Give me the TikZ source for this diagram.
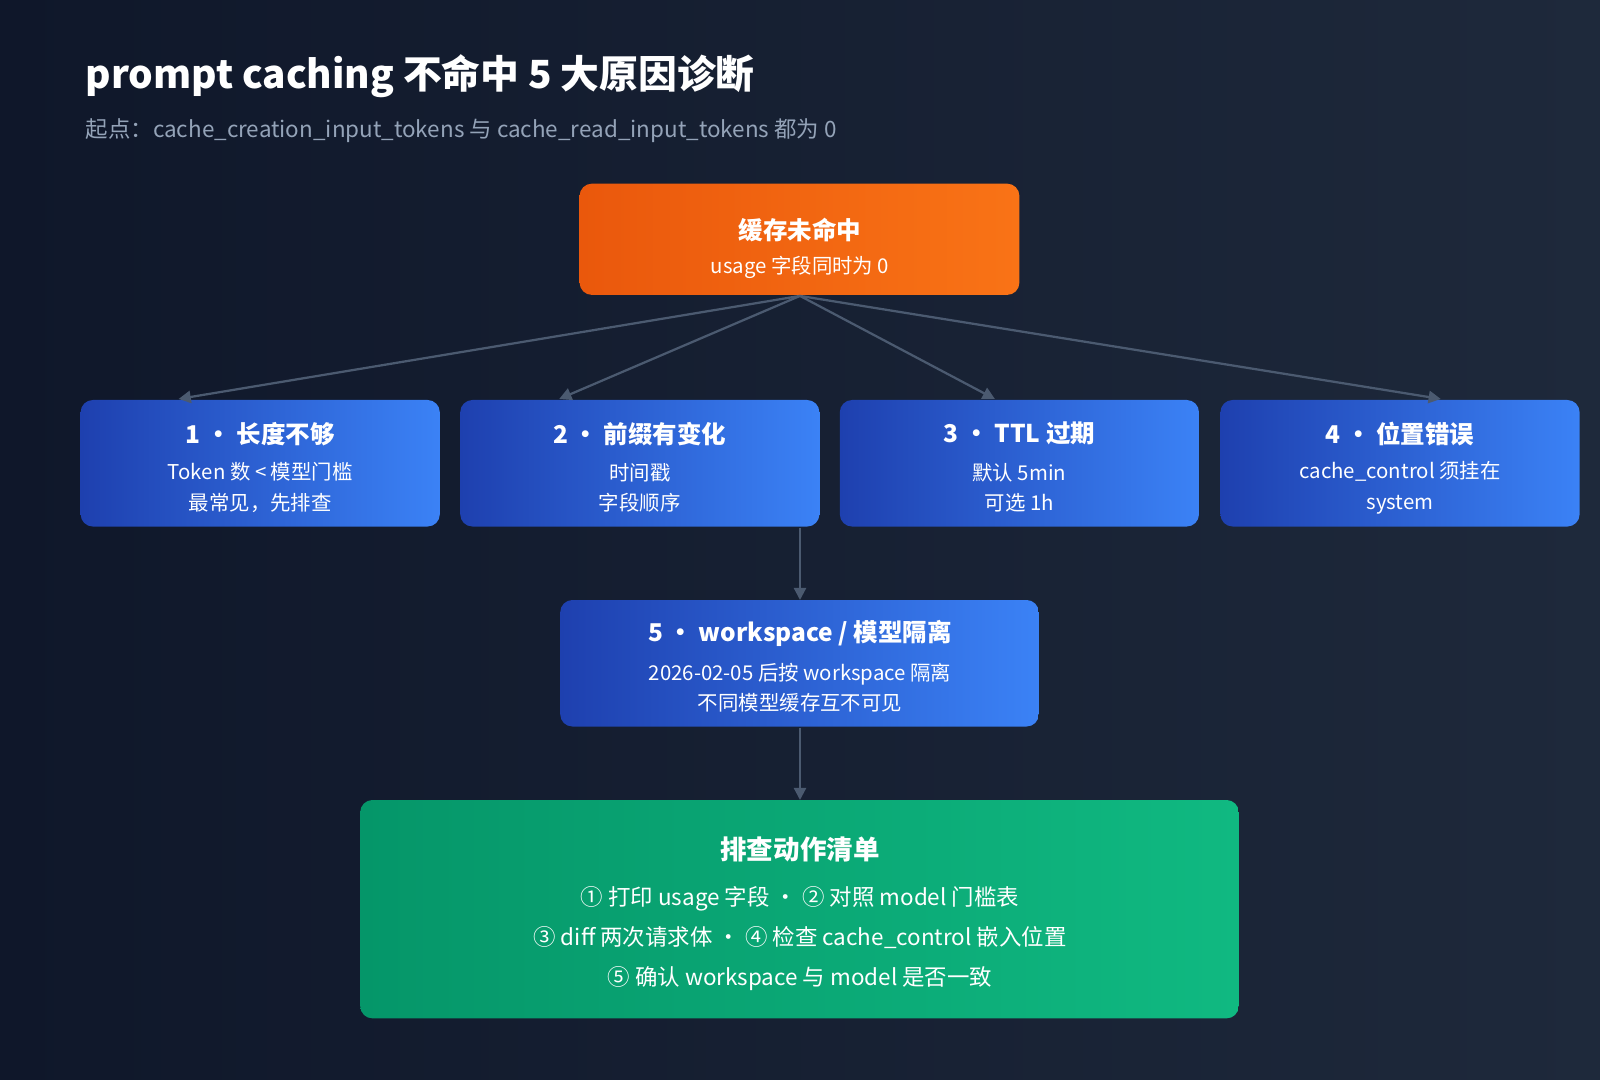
\documentclass[tikz,border=0pt]{standalone}
\usepackage{fontspec}
\setmainfont{Noto Sans CJK SC}
\usetikzlibrary{arrows.meta}
\definecolor{bgA}{HTML}{0F172A}\definecolor{bgB}{HTML}{1E293B}
\definecolor{orA}{HTML}{EA580C}\definecolor{orB}{HTML}{F97316}
\definecolor{blA}{HTML}{1E40AF}\definecolor{blB}{HTML}{3B82F6}
\definecolor{grA}{HTML}{059669}\definecolor{grB}{HTML}{10B981}
\definecolor{ln}{HTML}{4B5A70}\definecolor{sub}{HTML}{94A3B8}
\begin{document}
\begin{tikzpicture}[x=0.5pt,y=-0.5pt,
 box/.style={rounded corners=6pt,draw=none},
 blue/.style={box,left color=blA,right color=blB},
 ttl/.style={text=white,font=\bfseries\fontsize{12}{14}\selectfont},
 txt/.style={text=white,font=\fontsize{10}{15}\selectfont,align=center},
 arr/.style={draw=ln,line width=1.1pt,-{Triangle[length=6pt,width=6pt]}}]
\shade[left color=bgA,right color=bgB] (0,0) rectangle (1568,1058);
\useasboundingbox (0,0) rectangle (1568,1058);
\node[anchor=west,text=white,font=\bfseries\fontsize{19}{22}\selectfont] (title) at (77,75) {prompt caching 不命中 5 大原因诊断};
\node[anchor=west,text=sub,font=\fontsize{11}{13}\selectfont] (subt) at (77,128) {起点：cache\_creation\_input\_tokens 与 cache\_read\_input\_tokens 都为 0};
% top
\shade[box,left color=orA,right color=orB] (568,180) rectangle (999,289);
\node[ttl] (t0) at (784,225) {缓存未命中};
\node[txt] (s0) at (784,262) {usage 字段同时为 0};
\coordinate (top) at (784,290);
% row
\foreach \x/\n/\t/\a/\b in {79/1/1 · 长度不够/Token 数 < 模型门槛/最常见，先排查,
 451/2/2 · 前缀有变化/时间戳/字段顺序/字节级严格匹配,
 823/3/3 · TTL 过期/默认 5min / 可选 1h/写入费用 1.25x / 2x,
 1196/4/4 · 位置错误/cache\_control 须挂在/system / messages / tools}{
 \shade[blue] (\x,392) rectangle ++(352,124);
 \node[ttl] (b\n) at ({\x+176},425) {\t};
 \node[txt] (c\n) at ({\x+176},478) {\a\\\b};
}
\coordinate (r1) at (175,391);\coordinate (r2) at (548,391);
\coordinate (r3) at (975,391);\coordinate (r4) at (1412,391);
\foreach \i in {1,...,4}{\draw[arr] (top) -- (r\i);}
% box5
\shade[blue] (549,588) rectangle (1018,712);
\node[ttl] (b5) at (784,621) {5 · workspace / 模型隔离};
\node[txt] (c5) at (784,674) {2026-02-05 后按 workspace 隔离\\不同模型缓存互不可见};
\coordinate (o2) at (784,517);\coordinate (i5) at (784,588);
\coordinate (o5) at (784,713);\coordinate (ig) at (784,784);
\draw[arr] (o2) -- (i5);
\draw[arr] (o5) -- (ig);
% green
\shade[box,left color=grA,right color=grB] (353,784) rectangle (1214,998);
\node[text=white,font=\bfseries\fontsize{13}{15}\selectfont] (g0) at (784,832) {排查动作清单};
\node[text=white,font=\fontsize{11}{19.7}\selectfont,align=center] (g1) at (784,920) {① 打印 usage 字段 · ② 对照 model 门槛表\\③ diff 两次请求体 · ④ 检查 cache\_control 嵌入位置\\⑤ 确认 workspace 与 model 是否一致};
\end{tikzpicture}
\end{document}
